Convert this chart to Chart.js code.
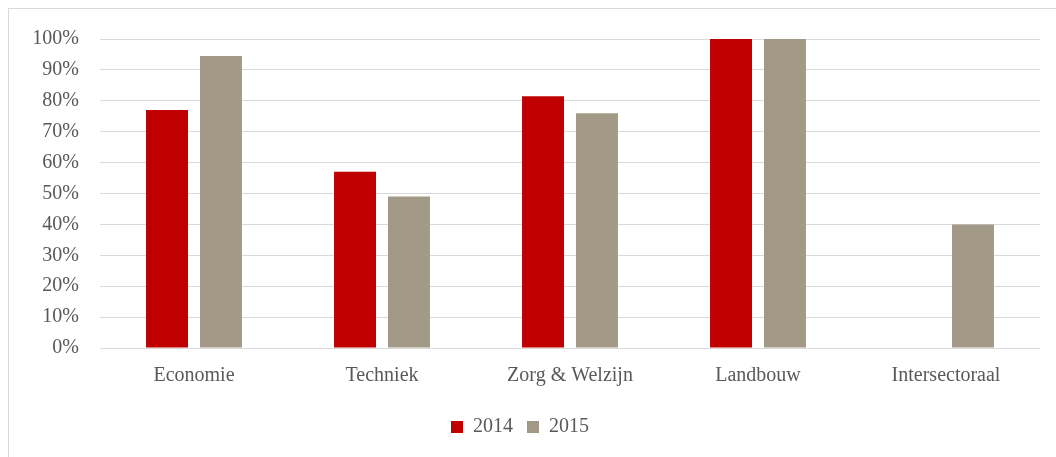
<!DOCTYPE html>
<html>
<head>
<meta charset="utf-8">
<script src="https://cdn.jsdelivr.net/npm/chart.js@4"></script>
<style>
  html, body { margin:0; padding:0; background:#fff; overflow:hidden; }
  #frame { position:absolute; left:8px; top:8px; width:1100px; height:470px; border:1px solid #d9d9d9; }
  #wrap { position:absolute; left:0; top:0; width:1056px; height:457px; }
</style>
</head>
<body>
<div id="frame"></div>
<div id="wrap"><canvas id="c"></canvas></div>
<script>
// categorieën en reeksen
const categories = ['Economie', 'Techniek', 'Zorg & Welzijn', 'Landbouw', 'Intersectoraal'];
const values2014 = [77, 57, 81.5, 100, null];
const values2015 = [94.5, 49, 76, 100, 40];
const seriesLabels = ['2014', '2015'];
const yTicks = [0, 10, 20, 30, 40, 50, 60, 70, 80, 90, 100];

const textCol = '#595959';
const gridCol = '#d9d9d9';

Chart.defaults.font.family = "'Liberation Serif', serif";
Chart.defaults.font.size = 20;
Chart.defaults.color = textCol;

new Chart(document.getElementById('c'), {
  type: 'bar',
  data: {
    labels: categories,
    datasets: [
      { label: seriesLabels[0], data: values2014, backgroundColor: '#c00000' },
      { label: seriesLabels[1], data: values2015, backgroundColor: '#a29a87' }
    ]
  },
  options: {
    responsive: true,
    maintainAspectRatio: false,
    animation: false,
    categoryPercentage: 0.574,
    barPercentage: 0.778,
    layout: { padding: { left: 0, right: 16, top: 39, bottom: 10 } },
    scales: {
      x: {
        grid: { display: false, drawTicks: false },
        border: { display: false },
        ticks: { color: textCol, padding: 16 },
        afterFit(s) { s.height = 55; }
      },
      y: {
        min: 0, max: 100,
        afterBuildTicks(s) { s.ticks = yTicks.map(v => ({ value: v })); },
        grid: { color: gridCol, lineWidth: 1, drawTicks: false },
        border: { display: false },
        ticks: { color: textCol, padding: 21, callback: v => v + '%' },
        afterFit(s) { s.width = 100; }
      }
    },
    plugins: {
      legend: {
        display: true,
        position: 'bottom',
        labels: { boxWidth: 12, boxHeight: 12, padding: 14, color: textCol }
      },
      tooltip: { enabled: false }
    }
  }
});
</script>
</body>
</html>
